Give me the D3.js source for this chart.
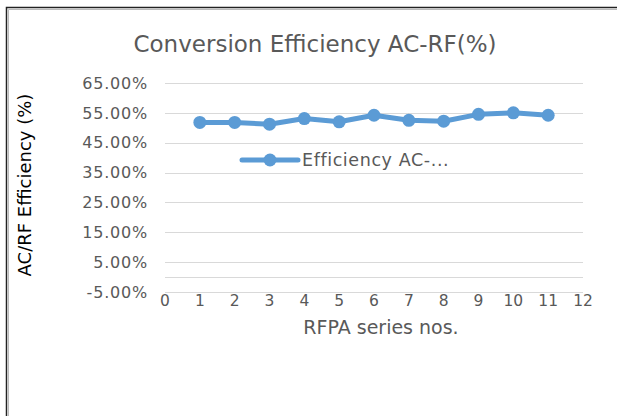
<!DOCTYPE html>
<html>
<head>
<meta charset="utf-8">
<script src="https://cdn.jsdelivr.net/npm/d3@7"></script>
<style>
  body { margin: 0; background: #fff; }
  text { font-family: "DejaVu Sans", "Open Sans", sans-serif; }
</style>
</head>
<body>
<svg id="chart" width="617" height="416"></svg>
<script>
// series data
const seriesNos = [1, 2, 3, 4, 5, 6, 7, 8, 9, 10, 11];
const efficiency = [51.8, 51.8, 51.2, 53.1, 52.0, 54.2, 52.5, 52.2, 54.5, 55.0, 54.2];
const yTicks = [-5, 5, 15, 25, 35, 45, 55, 65];
const xTicks = d3.range(0, 13);

const svg = d3.select("#chart");
const grey = "#595959";
const blue = "#5B9BD5";

// frame (chart area border, runs off right/bottom)
svg.append("path")
    .attr("d", "M6.5,420 V7.5 H620")
    .attr("fill", "none").attr("stroke", "#222").attr("stroke-width", 1.5);
svg.append("path")
    .attr("d", "M8.5,420 V9.5 H620")
    .attr("fill", "none").attr("stroke", "#bbb").attr("stroke-width", 1);

let x = d3.scaleLinear().domain([0, 12]).range([165, 583]);
let y = d3.scaleLinear().domain([-5, 65]).range([292, 83]);

// gridlines
svg.append("g").selectAll("line")
    .data(yTicks)
    .enter().append("line")
    .attr("x1", x(0)).attr("x2", x(12))
    .attr("y1", d => Math.round(y(d)) + 0.5)
    .attr("y2", d => Math.round(y(d)) + 0.5)
    .attr("stroke", "#d9d9d9").attr("stroke-width", 1);

// horizontal axis line at 0
svg.append("line")
    .attr("x1", x(0)).attr("x2", x(12))
    .attr("y1", Math.round(y(0)) + 0.5).attr("y2", Math.round(y(0)) + 0.5)
    .attr("stroke", "#d9d9d9").attr("stroke-width", 1);

// y labels
svg.append("g").selectAll("text")
    .data(yTicks)
    .enter().append("text")
    .attr("x", 148)
    .attr("y", d => y(d))
    .attr("dy", "0.36em")
    .attr("text-anchor", "end")
    .attr("font-size", 16)
    .attr("letter-spacing", 0.8)
    .attr("fill", grey)
    .text(d => d.toFixed(2) + "%");

// x labels
svg.append("g").selectAll("text")
    .data(xTicks)
    .enter().append("text")
    .attr("x", d => x(d))
    .attr("y", 306)
    .attr("text-anchor", "middle")
    .attr("font-size", 15.5)
    .attr("fill", grey)
    .text(d => d);

// line + markers
let line = d3.line()
    .x((d, i) => x(seriesNos[i]))
    .y(d => y(d));

svg.append("path")
    .datum(efficiency)
    .attr("d", line)
    .attr("fill", "none")
    .attr("stroke", blue)
    .attr("stroke-width", 5)
    .attr("stroke-linejoin", "round");

svg.append("g").selectAll("circle")
    .data(efficiency)
    .enter().append("circle")
    .attr("cx", (d, i) => x(seriesNos[i]))
    .attr("cy", d => y(d))
    .attr("r", 6.5)
    .attr("fill", blue);

// legend
let legend = svg.append("g").attr("transform", "translate(242,160)");
legend.append("line")
    .attr("x1", 0).attr("x2", 56)
    .attr("stroke", blue).attr("stroke-width", 5).attr("stroke-linecap", "round");
legend.append("circle").attr("cx", 28).attr("r", 6.5).attr("fill", blue);
legend.append("text")
    .attr("x", 60).attr("dy", "0.36em")
    .attr("font-size", 17.5).attr("letter-spacing", 0.6).attr("fill", grey)
    .text("Efficiency AC-...");

// titles
svg.append("text")
    .attr("x", 315).attr("y", 52)
    .attr("text-anchor", "middle")
    .attr("font-size", 23).attr("fill", grey)
    .text("Conversion Efficiency AC-RF(%)");

svg.append("text")
    .attr("x", 381).attr("y", 334)
    .attr("text-anchor", "middle")
    .attr("font-size", 19).attr("fill", grey)
    .text("RFPA series nos.");

svg.append("text")
    .attr("transform", "translate(31,185) rotate(-90)")
    .attr("text-anchor", "middle")
    .attr("font-size", 18).attr("fill", "#000")
    .text("AC/RF Efficiency (%)");
</script>
</body>
</html>
